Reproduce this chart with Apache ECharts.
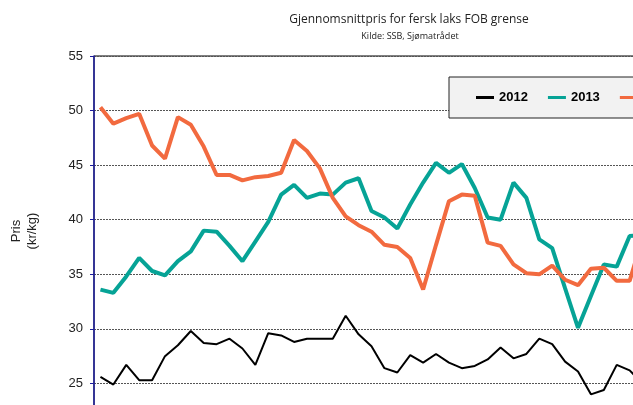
<!DOCTYPE html>
<html>
<head>
    <meta charset="utf-8">
    <title>Gjennomsnittpris for fersk laks FOB grense</title>
    <script src="https://cdn.jsdelivr.net/npm/echarts@6/dist/echarts.min.js"></script>
    <style type="text/css">
        * {
            margin: 0px;
            padding: 0px;
        }

        #main {
            width: 633px;
            height: 405px;
            background: #fff;
        }
    </style>
</head>
<body>
<div id="main"></div>
<script type="text/javascript">
    // uke 1-43
    var weeks = [];
    for (var w = 1; w <= 43; w++) weeks.push(String(w));

    var seriesNames = ['2012', '2013', '2014'];

    var pris2012 = [25.6, 24.9, 26.7, 25.3, 25.3, 27.5, 28.5, 29.8, 28.7, 28.6,
        29.1, 28.2, 26.7, 29.6, 29.4, 28.8, 29.1, 29.1, 29.1, 31.2,
        29.5, 28.4, 26.4, 26.0, 27.6, 26.9, 27.7, 26.9, 26.4, 26.6,
        27.2, 28.3, 27.3, 27.7, 29.1, 28.6, 27.0, 26.1, 24.0, 24.4,
        26.7, 26.2, 25.0];

    var pris2013 = [33.6, 33.3, 34.8, 36.5, 35.3, 34.9, 36.2, 37.1, 39.0, 38.9,
        37.6, 36.2, 38.0, 39.8, 42.3, 43.2, 42.0, 42.4, 42.3, 43.4,
        43.8, 40.8, 40.2, 39.2, 41.4, 43.4, 45.2, 44.3, 45.1, 42.9,
        40.2, 40.0, 43.4, 42.0, 38.2, 37.4, 33.7, 30.1, 33.0, 35.9,
        35.7, 38.5, 38.6];

    var pris2014 = [50.3, 48.8, 49.3, 49.7, 46.8, 45.6, 49.4, 48.7, 46.7, 44.1,
        44.1, 43.6, 43.9, 44.0, 44.3, 47.3, 46.3, 44.7, 42.0, 40.3,
        39.5, 38.9, 37.7, 37.5, 36.5, 33.6, 37.7, 41.7, 42.3, 42.2,
        37.9, 37.6, 35.9, 35.1, 35.0, 35.8, 34.5, 34.0, 35.5, 35.6,
        34.4, 34.4, 38.3];

    var yTicks = [20, 25, 30, 35, 40, 45, 50, 55];

    var myChart = echarts.init(document.getElementById('main'));

    var option = {
        backgroundColor: '#fff',
        animation: false,
        graphic: [{
            type: 'text',
            x: 409,
            y: 14,
            style: {
                text: 'Gjennomsnittpris for fersk laks FOB grense',
                font: '12px "Open Sans"',
                fill: '#222',
                textAlign: 'center',
                textVerticalAlign: 'top'
            }
        }, {
            type: 'text',
            x: 410,
            y: 32,
            style: {
                text: 'Kilde: SSB, Sjømatrådet',
                font: '9px "Open Sans"',
                fill: '#222',
                textAlign: 'center',
                textVerticalAlign: 'top'
            }
        }, {
            // aksetittel
            type: 'text',
            x: 24,
            y: 231,
            rotation: Math.PI / 2,
            style: {
                text: 'Pris\n(kr/kg)',
                font: '13px "Liberation Sans", Arial',
                lineHeight: 16,
                fill: '#222',
                textAlign: 'center',
                textVerticalAlign: 'middle'
            }
        }],
        legend: {
            left: 449,
            top: 77,
            width: 260,
            orient: 'horizontal',
            padding: [14, 20, 14, 27],
            itemGap: 20,
            itemWidth: 18,
            itemHeight: 3,
            icon: 'rect',
            backgroundColor: '#f2f2f2',
            borderColor: '#222',
            borderWidth: 1,
            textStyle: {
                fontFamily: '"Liberation Sans", Arial',
                fontSize: 13,
                fontWeight: 'bold',
                color: '#000'
            },
            data: seriesNames
        },
        grid: {
            left: 94,
            top: 56,
            width: 555,
            height: 382,
            outerBoundsMode: 'none',
            containLabel: false,
            show: true,
            borderColor: '#000',
            borderWidth: 1
        },
        xAxis: {
            type: 'category',
            data: weeks,
            boundaryGap: true,
            axisLine: {show: false},
            axisTick: {show: false},
            axisLabel: {show: false}
        },
        yAxis: {
            type: 'value',
            min: yTicks[0],
            max: yTicks[yTicks.length - 1],
            interval: 5,
            axisLine: {show: true, lineStyle: {color: '#1c1c9c', width: 1.5}},
            axisTick: {show: true, length: 4, lineStyle: {color: '#1c1c9c'}},
            axisLabel: {
                margin: 11,
                fontFamily: '"Liberation Sans", Arial',
                fontSize: 13,
                color: '#222'
            },
            splitLine: {
                show: true,
                lineStyle: {color: '#555', type: [2, 1], width: 1}
            }
        },
        series: [{
            name: seriesNames[0],
            type: 'line',
            data: pris2012,
            symbol: 'none',
            color: '#000',
            lineStyle: {width: 2}
        }, {
            name: seriesNames[1],
            type: 'line',
            data: pris2013,
            symbol: 'none',
            color: '#06a396',
            lineStyle: {width: 4}
        }, {
            name: seriesNames[2],
            type: 'line',
            data: pris2014,
            symbol: 'none',
            color: '#f26a3f',
            lineStyle: {width: 4}
        }]
    };

    myChart.setOption(option);
</script>
</body>
</html>
